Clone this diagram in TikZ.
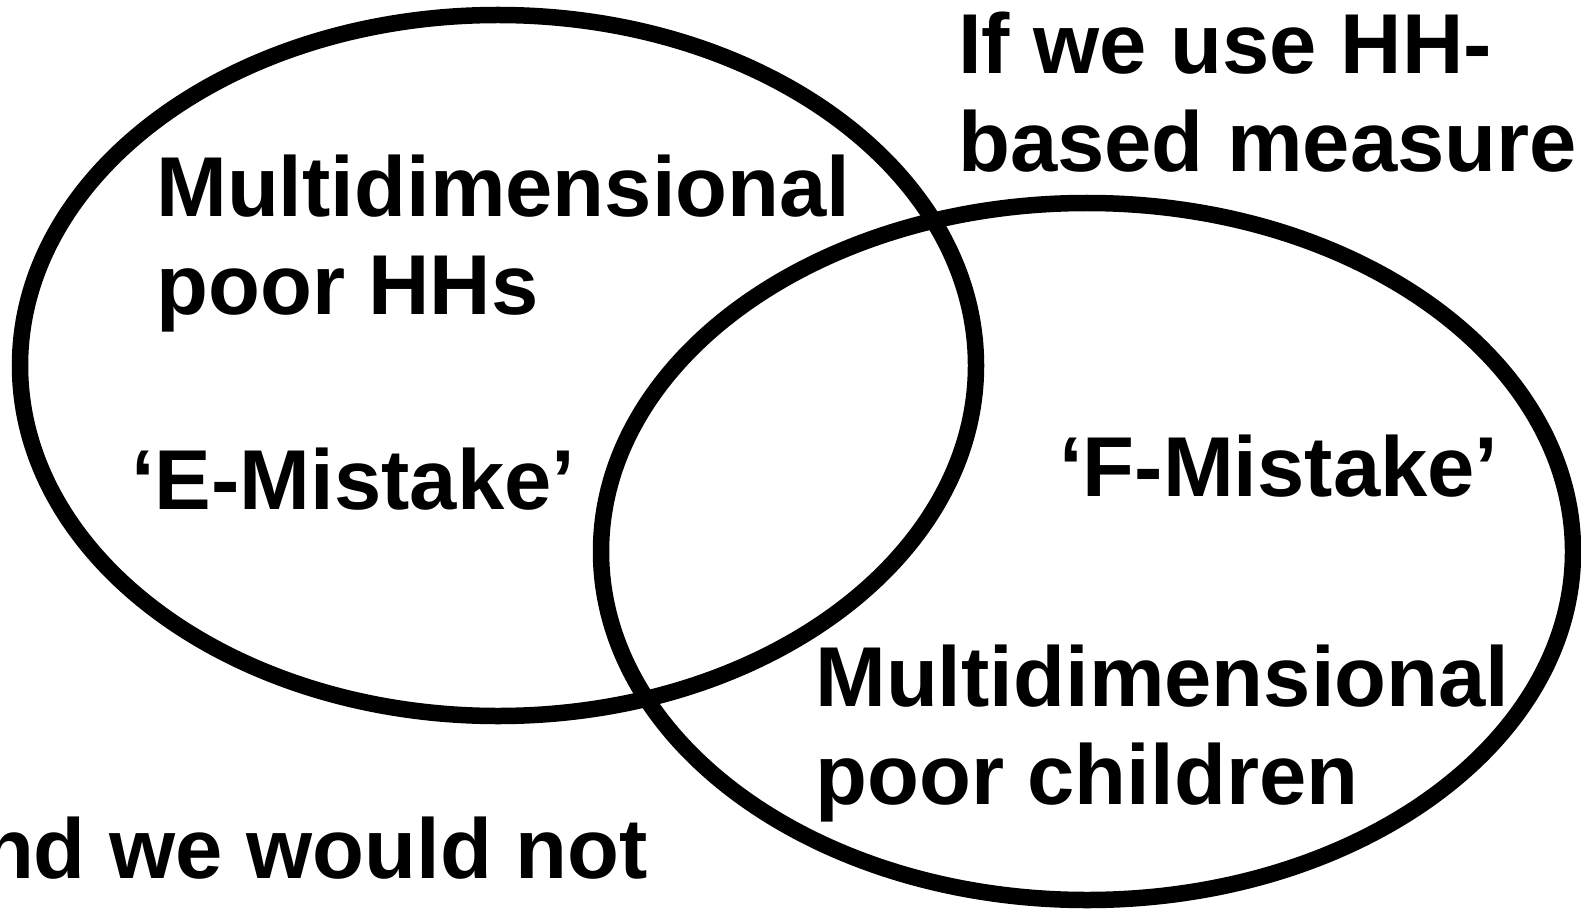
\documentclass[tikz,border=0pt]{standalone}
\usepackage{fontspec}
\setmainfont{Liberation Sans}
\usepackage{tikz}

\begin{document}
\begin{tikzpicture}[x=1pt,y=-1pt,
  ring/.style={draw=black,line width=16.5pt},
  big/.style={font=\fontsize{85}{98}\selectfont\bfseries,inner sep=0pt,anchor=base west,align=left}]
\useasboundingbox (0,0) rectangle (1581,909);
\draw [ring] (498,365.5) ellipse [x radius=478, y radius=350.5];
\draw [ring] (1087,551.5) ellipse [x radius=486, y radius=348.5];
\node [big] (hhpoor) at (156,314) {Multidimensional\\poor HHs};
\node [big] (emist) at (131,509) {‘E-Mistake’};
\node [big] (fmist) at (1059,496) {‘F-Mistake’};
\node [big] (chpoor) at (815,804) {Multidimensional\\poor children};
\node [big] (hhmeas) at (958,172) {If we use HH-\\based measure};
\node [big,anchor=base east] (wouldnot) at (648,878) {and we would not};
\end{tikzpicture}
\end{document}
